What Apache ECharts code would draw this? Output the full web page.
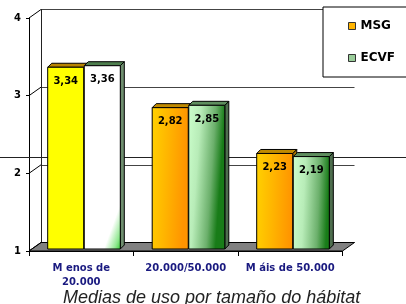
<!DOCTYPE html>
<html><head><meta charset="utf-8">
<script src="https://cdn.jsdelivr.net/npm/echarts@6/dist/echarts.min.js"></script>
<style>html,body{margin:0;padding:0;background:#fff}#c{width:406px;height:304px}</style>
</head><body><div id="c"></div>
<script>
const categories = ['M enos de\n20.000', '20.000/50.000', 'M áis de 50.000'];
const seriesNames = ['MSG', 'ECVF'];
const msgValues = [3.34, 2.82, 2.23];
const ecvfValues = [3.36, 2.85, 2.19];
const yTicks = [1, 2, 3, 4];
const titleText = 'Medias de uso por tamaño do hábitat';

const WALL_DX = 12, WALL_DY = -8.5;
const BAR_DX = 4, BAR_DY = -4;
const G = echarts.graphic;

function orangeFill() {
  return new G.LinearGradient(0, 0, 1, 0.012, [{offset: 0, color: '#FFD200'}, {offset: 0.5, color: '#FFB400'}, {offset: 1, color: '#FF9400'}]);
}
function greenFill() {
  return new G.LinearGradient(0, 0, 1, 0.018, [{offset: 0, color: '#CCFFCC'}, {offset: 0.35, color: '#B8ECB8'}, {offset: 0.75, color: '#6CB06C'}, {offset: 1, color: '#187C18'}]);
}
const msgStyles = [
  { front: '#FFFF00', top: '#B88400', side: '#B88400' },
  { front: orangeFill(), top: '#C08A00', side: '#B07800' },
  { front: orangeFill(), top: '#C08A00', side: '#B07800' }
];
const ecvfStyles = [
  { front: new G.LinearGradient(0, 0, 2.53, 0.185, [{offset: 0, color: '#FFFFFF'}, {offset: 0.82, color: '#FFFFFF'}, {offset: 0.92, color: '#90E890'}, {offset: 1, color: '#10C010'}]), top: '#4E7E4E', side: '#6E8E6E' },
  { front: greenFill(), top: '#5E8E5E', side: '#4E6E4E' },
  { front: greenFill(), top: '#5E8E5E', side: '#4E6E4E' }
];

function fmt(v) { return v.toFixed(2).replace('.', ','); }

function barRenderer(which, styles) {
  return function (params, api) {
    const i = api.value(0), v = api.value(1);
    const top = api.coord([i, v]);
    const base = api.coord([i, 1]);
    const band = api.size([1, 0])[0];
    const w = band * 0.345;
    const cx = top[0] + 2.5;
    const x1 = which === 0 ? cx - w : cx + 0.5;
    const x2 = x1 + w;
    const yt = top[1] - 2, yb = base[1] - 2;
    const st = styles[i];
    return {
      type: 'group', children: [
        { type: 'polygon', shape: { points: [[x2, yt], [x2 + BAR_DX, yt + BAR_DY], [x2 + BAR_DX, yb + BAR_DY], [x2, yb]] }, style: { fill: st.side, stroke: '#000', lineWidth: 1 } },
        { type: 'polygon', shape: { points: [[x1, yt], [x2, yt], [x2 + BAR_DX, yt + BAR_DY], [x1 + BAR_DX, yt + BAR_DY]] }, style: { fill: st.top, stroke: '#000', lineWidth: 1 } },
        { type: 'rect', shape: { x: x1, y: yt, width: w, height: yb - yt }, style: { fill: st.front, stroke: '#000', lineWidth: 1 } },
        { type: 'text', x: (x1 + x2) / 2, y: yt + 9, style: { text: fmt(v), fill: '#000', fontSize: 10, fontWeight: 'bold', fontFamily: 'DejaVu Sans', align: 'center', verticalAlign: 'top' } }
      ]
    };
  };
}

const chart = echarts.init(document.getElementById('c'), null, { renderer: 'canvas' });
chart.setOption({
  animation: false,
  backgroundColor: '#fff',
  title: {
    text: titleText, left: 63, top: 289, padding: 0,
    textStyle: { fontSize: 18, fontStyle: 'italic', fontWeight: 'normal', color: '#222', fontFamily: 'Liberation Sans' }
  },
  legend: {
    data: seriesNames, orient: 'vertical', left: 323, top: 7,
    padding: [13, 22, 13, 25], itemGap: 20, itemWidth: 7, itemHeight: 7, icon: 'rect',
    backgroundColor: '#fff', borderColor: '#000', borderWidth: 1, borderRadius: 0,
    itemStyle: { borderColor: '#333', borderWidth: 1 },
    textStyle: { fontSize: 12, fontWeight: 'bold', fontFamily: 'DejaVu Sans', color: '#000' }
  },
  graphic: [
    { type: 'line', z: 1, shape: { x1: 0, y1: 157.5, x2: 406, y2: 157.5 }, style: { stroke: '#222', lineWidth: 1 } }
  ],
  grid: [
    { left: 29, right: 63.5, top: 18, bottom: 53 },
    { left: 29 + WALL_DX, right: 63.5 - WALL_DX, top: 18 + WALL_DY, bottom: 53 - WALL_DY }
  ],
  xAxis: [
    {
      gridIndex: 0, type: 'category', data: categories, boundaryGap: true,
      axisLine: { lineStyle: { color: '#000', width: 1 } },
      axisTick: { show: true, length: 5, interval: 0, lineStyle: { color: '#000' } },
      axisLabel: { interval: 0, margin: 10, color: '#1A1A80', fontSize: 10, fontWeight: 'bold', fontFamily: 'DejaVu Sans', lineHeight: 14 }
    },
    { gridIndex: 1, type: 'category', data: categories, show: false }
  ],
  yAxis: [
    {
      gridIndex: 0, type: 'value', min: 1, max: 4, interval: 1,
      axisLine: { show: true, lineStyle: { color: '#000', width: 1 } },
      axisTick: { show: true, length: 3, lineStyle: { color: '#000' } },
      axisLabel: { margin: 8, color: '#000', fontSize: 10, fontWeight: 'bold', fontFamily: 'DejaVu Sans' },
      splitLine: { show: false }
    },
    {
      gridIndex: 1, type: 'value', min: 1, max: 4, interval: 1,
      axisLine: { show: true, lineStyle: { color: '#222', width: 1 } },
      axisTick: { show: false }, axisLabel: { show: false },
      splitLine: { show: true, lineStyle: { color: '#444', width: 1 } }
    }
  ],
  series: [
    {
      type: 'custom', name: 'floor', xAxisIndex: 0, yAxisIndex: 0, silent: true,
      data: [[0, yTicks[0]]], encode: { x: 0, y: 1 },
      renderItem: function (params, api) {
        const cs = params.coordSys;
        const y = api.coord([0, api.value(1)])[1];
        return { type: 'polygon', shape: { points: [[cs.x, y], [cs.x + cs.width, y], [cs.x + cs.width + WALL_DX, y + WALL_DY], [cs.x + WALL_DX, y + WALL_DY]] }, style: { fill: '#808080', stroke: '#000', lineWidth: 1 } };
      }
    },
    {
      type: 'custom', name: 'depth', xAxisIndex: 0, yAxisIndex: 0, silent: true,
      data: yTicks.map(t => [0, t]), encode: { x: 0, y: 1 },
      renderItem: function (params, api) {
        const cs = params.coordSys;
        const y = api.coord([0, api.value(1)])[1];
        return { type: 'line', shape: { x1: cs.x, y1: y, x2: cs.x + WALL_DX, y2: y + WALL_DY }, style: { stroke: '#000', lineWidth: 1 } };
      }
    },
    {
      type: 'custom', name: 'MSG', xAxisIndex: 0, yAxisIndex: 0,
      itemStyle: { color: '#FFB400' },
      data: msgValues.map((v, i) => [i, v]), encode: { x: 0, y: 1 },
      renderItem: barRenderer(0, msgStyles)
    },
    {
      type: 'custom', name: 'ECVF', xAxisIndex: 0, yAxisIndex: 0,
      itemStyle: { color: '#99CC99' },
      data: ecvfValues.map((v, i) => [i, v]), encode: { x: 0, y: 1 },
      renderItem: barRenderer(1, ecvfStyles)
    }
  ]
});
</script>
</body></html>
